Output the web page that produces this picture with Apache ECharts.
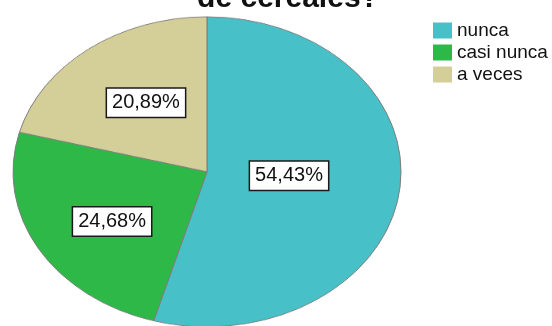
<!DOCTYPE html>
<html>
<head>
<meta charset="utf-8">
<script src="https://cdn.jsdelivr.net/npm/echarts@6/dist/echarts.min.js"></script>
<style>
  html, body { margin: 0; padding: 0; background: #ffffff; }
  #wrap { position: relative; width: 552px; height: 326px; overflow: hidden; background: #ffffff; }
  /* slices are drawn round and squeezed vertically into an ellipse */
  #slices { position: absolute; left: 0; top: 0; width: 552px; height: 408px;
            transform: scaleY(0.799); transform-origin: 0 0; }
  #chart { position: absolute; left: 0; top: 0; width: 552px; height: 326px; }
</style>
</head>
<body>
<div id="wrap">
  <div id="slices"></div>
  <div id="chart"></div>
</div>
<script>
const categories = ['nunca', 'casi nunca', 'a veces'];
const percents = [54.43, 24.68, 20.89];
const sliceColors = ['#47C0C8', '#2EB848', '#D4CE98'];
const titleText = 'de cereales?';

const FONT = '"Liberation Sans", Arial, sans-serif';

function fmt(v) {
  return v.toFixed(2).replace('.', ',') + '%';
}

const pieData = categories.map(function (name, i) {
  return { name: name, value: percents[i] };
});

// Lower layer: the filled slices
const slices = echarts.init(document.getElementById('slices'), null, { renderer: 'canvas' });
slices.setOption({
  animation: false,
  color: sliceColors,
  series: [{
    type: 'pie',
    center: [207, 215],
    radius: [0, 194],
    startAngle: 90,
    clockwise: true,
    silent: true,
    label: { show: false },
    labelLine: { show: false },
    itemStyle: { borderColor: '#7d7d7d', borderWidth: 1 },
    data: pieData
  }]
});

// Upper layer: title, legend and the value boxes (slices left see-through)
const chart = echarts.init(document.getElementById('chart'), null, { renderer: 'canvas' });
const nudges = [[-17, -10], [-8, 0], [0, 10]];
chart.setOption({
  animation: false,
  color: sliceColors,
  title: {
    text: titleText,
    left: 283,
    top: -21,
    textAlign: 'center',
    textStyle: { fontFamily: FONT, fontSize: 30, fontWeight: 'bold', color: '#111' }
  },
  legend: {
    orient: 'vertical',
    left: 428,
    top: 16,
    icon: 'rect',
    itemWidth: 19,
    itemHeight: 16,
    itemGap: 3,
    selectedMode: false,
    textStyle: { fontFamily: FONT, fontSize: 19, color: '#111', lineHeight: 18 },
    data: categories.map(function (name, i) {
      return { name: name, itemStyle: { color: sliceColors[i], opacity: 1, borderWidth: 0 } };
    })
  },
  series: [{
    type: 'pie',
    center: [207, 172],
    radius: [0, 194],
    startAngle: 90,
    clockwise: true,
    silent: true,
    itemStyle: { color: 'rgba(0,0,0,0)', borderWidth: 0 },
    labelLine: { show: false },
    label: {
      show: true,
      position: 'inside',
      formatter: function (p) { return fmt(p.value); },
      fontFamily: FONT,
      fontSize: 20,
      color: '#111',
      lineHeight: 20,
      backgroundColor: '#ffffff',
      borderColor: '#1a1a1a',
      borderWidth: 1.5,
      padding: [4, 5, 4, 5]
    },
    labelLayout: function (p) {
      const n = nudges[p.dataIndex];
      return { dx: n[0], dy: n[1] };
    },
    data: pieData
  }]
});
</script>
</body>
</html>
